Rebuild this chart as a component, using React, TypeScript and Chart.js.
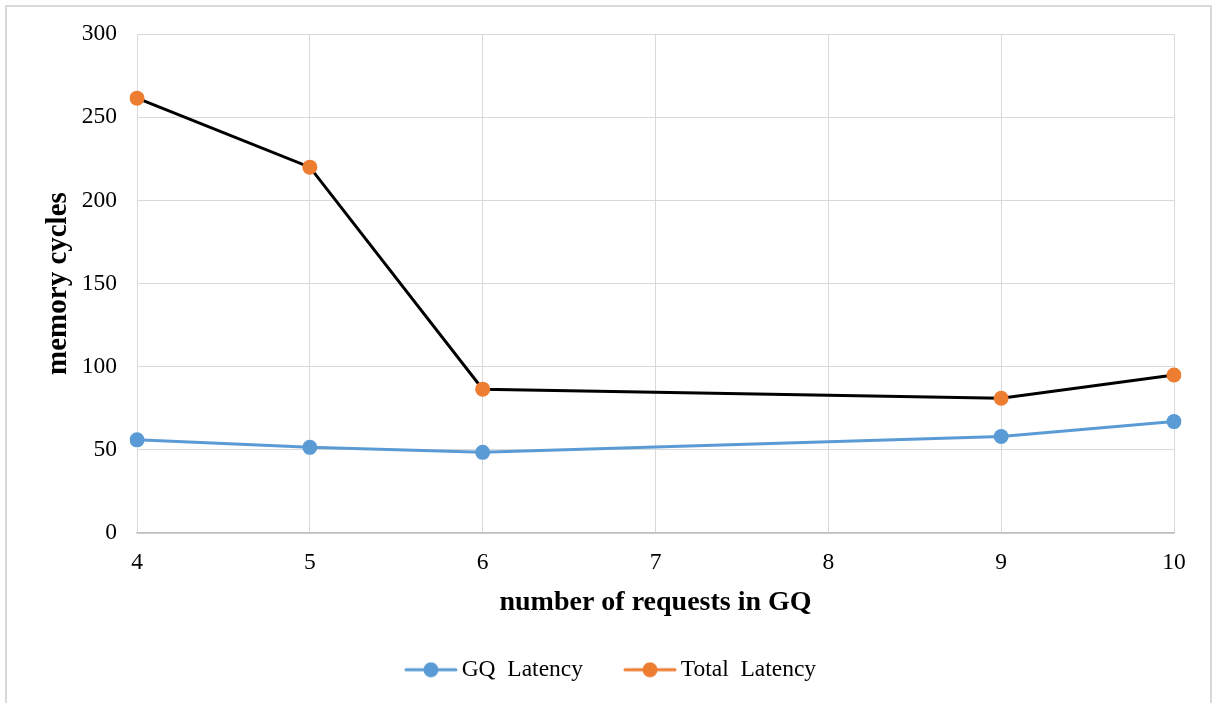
import React, { useEffect, useRef } from "react";
import { Chart, registerables } from "chart.js";

Chart.register(...registerables);

const categories = ["4", "5", "6", "7", "8", "9", "10"];
const gqLatency = [56, 51.5, 48.5, null, null, 58, 67];
const totalLatency = [261.5, 220, 86.5, null, null, 81, 95];
const yTicks = [0, 50, 100, 150, 200, 250, 300];

const BLUE = "#5B9BD5";
const ORANGE = "#ED7D31";
const GRID = "#d9d9d9";
const FAMILY = "'Liberation Serif', 'Times New Roman', serif";

function legendIcon(color: string): HTMLCanvasElement {
  const c = document.createElement("canvas");
  c.width = 54;
  c.height = 16;
  const ctx = c.getContext("2d")!;
  ctx.strokeStyle = color;
  ctx.lineWidth = 3;
  ctx.lineCap = "round";
  ctx.beginPath();
  ctx.moveTo(2, 8);
  ctx.lineTo(52, 8);
  ctx.stroke();
  ctx.fillStyle = color;
  ctx.beginPath();
  ctx.arc(27, 8, 7.5, 0, Math.PI * 2);
  ctx.fill();
  return c;
}

const borderPlugin = {
  id: "outerBorder",
  afterLayout(chart: any) {
    const lg = chart.legend;
    if (lg) {
      lg.left += 27;
      lg.right += 27;
      lg.top += 2;
      lg.bottom += 2;
    }
  },
  beforeDraw(chart: any) {
    const ctx = chart.ctx;
    ctx.save();
    ctx.fillStyle = "#ffffff";
    ctx.fillRect(0, 0, chart.width, chart.height);
    ctx.strokeStyle = "#d9d9d9";
    ctx.lineWidth = 2;
    ctx.strokeRect(6, 6, 1205, 703);
    ctx.restore();
  },
};

export default function App() {
  const ref = useRef<HTMLCanvasElement | null>(null);

  useEffect(() => {
    if (!ref.current) return;
    const icons = [legendIcon(BLUE), legendIcon(ORANGE)];
    const chart = new Chart(ref.current, {
      type: "line",
      data: {
        labels: categories,
        datasets: [
          {
            label: "GQ  Latency",
            data: gqLatency,
            borderColor: BLUE,
            backgroundColor: BLUE,
            borderWidth: 3,
            pointRadius: 7.5,
            pointHoverRadius: 7.5,
            pointBackgroundColor: BLUE,
            pointBorderWidth: 0,
            spanGaps: true,
            tension: 0,
          },
          {
            label: "Total  Latency",
            data: totalLatency,
            borderColor: ORANGE,
            backgroundColor: ORANGE,
            borderWidth: 3,
            segment: { borderColor: () => "#000000" },
            pointRadius: 7.5,
            pointHoverRadius: 7.5,
            pointBackgroundColor: ORANGE,
            pointBorderWidth: 0,
            spanGaps: true,
            tension: 0,
          },
        ],
      },
      options: {
        animation: false,
        responsive: true,
        maintainAspectRatio: false,
        layout: { padding: { left: 0, right: 42, top: 34, bottom: 13.5 } },
        plugins: {
          tooltip: { enabled: false },
          legend: {
            position: "bottom",
            labels: {
              usePointStyle: true,
              pointStyleWidth: 38,
              padding: 48,
              color: "#000",
              font: { family: FAMILY, size: 23.5 },
              generateLabels: (chart: any) =>
                chart.data.datasets.map((ds: any, i: number) => ({
                  text: ds.label,
                  pointStyle: icons[i],
                  fillStyle: ds.borderColor,
                  strokeStyle: ds.borderColor,
                  lineWidth: 0,
                  hidden: false,
                  datasetIndex: i,
                  fontColor: "#000",
                })),
            },
          },
        },
        scales: {
          x: {
            type: "category",
            offset: false,
            grid: { color: GRID, lineWidth: 1, drawTicks: false },
            border: { color: "#bfbfbf", width: 1.5 },
            ticks: {
              color: "#000",
              padding: 16,
              maxRotation: 0,
              font: { family: FAMILY, size: 23.5 },
            },
            title: {
              display: true,
              text: "number of requests in GQ",
              color: "#000",
              padding: { top: 0, bottom: -12 },
              font: { family: FAMILY, size: 28, weight: "bold" },
            },
            afterFit: (s: any) => {
              s.height = 75;
            },
          },
          y: {
            min: 0,
            max: 300,
            grid: { color: GRID, lineWidth: 1, drawTicks: false },
            border: { color: GRID, width: 1 },
            afterBuildTicks: (s: any) => {
              s.ticks = yTicks.map((v) => ({ value: v }));
            },
            ticks: {
              color: "#000",
              padding: 20,
              font: { family: FAMILY, size: 23.5 },
            },
            title: {
              display: true,
              text: "memory cycles",
              color: "#000",
              padding: { top: 41.5, bottom: 0 },
              font: { family: FAMILY, size: 29, weight: "bold" },
            },
            afterFit: (s: any) => {
              s.width = 137;
            },
          },
        },
      },
      plugins: [borderPlugin],
    });
    return () => chart.destroy();
  }, []);

  return (
    <div style={{ position: "fixed", left: 0, top: 0, width: 1216, height: 703, background: "#fff" }}>
      <canvas ref={ref} />
    </div>
  );
}
